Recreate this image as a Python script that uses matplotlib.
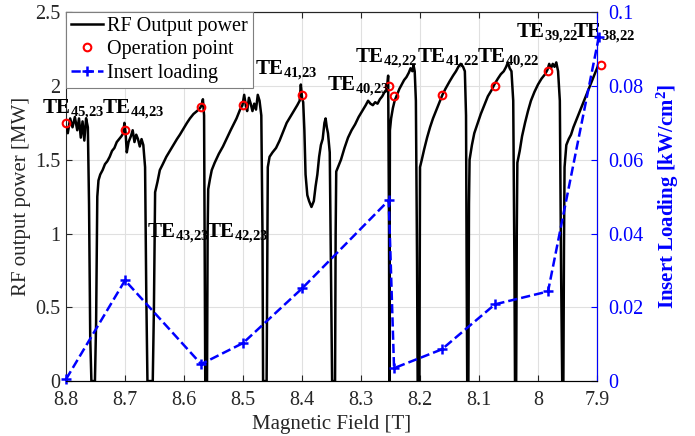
import matplotlib
matplotlib.use("Agg")
from matplotlib import pyplot as plt

plt.rcParams['font.family'] = ['Liberation Serif', 'DejaVu Serif']
plt.rcParams['mathtext.fontset'] = 'custom'
plt.rcParams['mathtext.rm'] = 'Liberation Serif'
plt.rcParams['mathtext.bf'] = 'Liberation Serif:bold'
plt.rcParams['mathtext.it'] = 'Liberation Serif:italic'

# RF output power trace
rf_field = [
    8.800, 8.797, 8.793, 8.789, 8.785, 8.781, 8.778, 8.775, 8.772, 8.769, 8.766, 8.763, 8.761, 8.759, 8.757, 8.751,
    8.749, 8.747, 8.745, 8.742, 8.738, 8.734, 8.730, 8.726, 8.722, 8.718, 8.714, 8.710, 8.706, 8.703, 8.701, 8.699,
    8.697, 8.694, 8.690, 8.687, 8.684, 8.681, 8.678, 8.675, 8.672, 8.669, 8.666, 8.664, 8.662, 8.653,
    8.651, 8.649, 8.645, 8.641, 8.636, 8.630, 8.624, 8.618, 8.612, 8.607, 8.601, 8.595, 8.590, 8.584, 8.578, 8.573,
    8.570, 8.568, 8.566, 8.565, 8.564, 8.561,
    8.560, 8.559, 8.556, 8.553, 8.548, 8.541, 8.534, 8.527, 8.521, 8.516, 8.511, 8.505, 8.501, 8.498, 8.495, 8.493,
    8.490, 8.487, 8.484, 8.481, 8.478, 8.475, 8.472, 8.469, 8.467, 8.466, 8.460,
    8.459, 8.458, 8.455, 8.450, 8.444, 8.438, 8.432, 8.426, 8.420, 8.414, 8.408, 8.404, 8.402, 8.400, 8.398, 8.396,
    8.394, 8.391, 8.388, 8.384, 8.380, 8.377, 8.374, 8.371, 8.368, 8.365, 8.362, 8.360, 8.358, 8.356, 8.353, 8.351,
    8.349, 8.344,
    8.343, 8.342, 8.338, 8.334, 8.328, 8.322, 8.316, 8.310, 8.304, 8.298, 8.292, 8.288, 8.284, 8.280, 8.276, 8.272,
    8.268, 8.264, 8.260, 8.256, 8.254, 8.2525, 8.252, 8.2515,
    8.251, 8.249, 8.246, 8.243, 8.239, 8.235, 8.231, 8.227, 8.223, 8.219, 8.216, 8.213, 8.211, 8.209, 8.207, 8.205,
    8.204, 8.201,
    8.200, 8.197, 8.193, 8.188, 8.183, 8.178, 8.172, 8.167, 8.162, 8.157, 8.150, 8.144, 8.139, 8.135, 8.131, 8.127,
    8.124, 8.122, 8.121, 8.120, 8.118,
    8.117, 8.116, 8.112, 8.108, 8.103, 8.097, 8.091, 8.085, 8.079, 8.074, 8.068, 8.063, 8.058, 8.054, 8.051, 8.048,
    8.045, 8.042, 8.040, 8.039, 8.037,
    8.036, 8.035, 8.031, 8.027, 8.022, 8.017, 8.012, 8.006, 8.000, 7.994, 7.988, 7.984, 7.981, 7.978, 7.975, 7.972,
    7.969, 7.966, 7.963, 7.961, 7.959, 7.957,
    7.956, 7.955, 7.952, 7.948, 7.944, 7.940, 7.935, 7.930, 7.925, 7.920, 7.915, 7.910, 7.905, 7.900, 7.897,
]
rf_power = [
    1.72, 1.68, 1.78, 1.72, 1.79, 1.70, 1.78, 1.65, 1.76, 1.63, 1.78, 1.72, 1.20, 0.30, 0.0, 0.0,
    0.40, 1.25, 1.36, 1.40, 1.43, 1.47, 1.49, 1.52, 1.56, 1.58, 1.62, 1.64, 1.66, 1.68, 1.75, 1.68,
    1.55, 1.62, 1.66, 1.70, 1.62, 1.67, 1.64, 1.59, 1.64, 1.60, 1.45, 0.60, 0.0, 0.0,
    0.50, 1.28, 1.35, 1.43, 1.47, 1.52, 1.56, 1.60, 1.64, 1.67, 1.71, 1.75, 1.78, 1.81, 1.83, 1.85,
    1.87, 1.91, 1.80, 0.90, 0.0, 0.0,
    1.00, 1.30, 1.37, 1.43, 1.48, 1.54, 1.59, 1.65, 1.70, 1.74, 1.78, 1.84, 1.87, 1.94, 1.86, 1.83,
    1.92, 1.88, 1.83, 1.88, 1.84, 1.94, 1.90, 1.80, 1.00, 0.0, 0.0,
    0.80, 1.45, 1.52, 1.55, 1.58, 1.63, 1.69, 1.75, 1.79, 1.83, 1.87, 1.90, 2.01, 1.92, 1.89, 1.70,
    1.40, 1.26, 1.22, 1.18, 1.22, 1.32, 1.40, 1.52, 1.60, 1.64, 1.75, 1.78, 1.72, 1.68, 1.55, 0.80,
    0.0, 0.0,
    1.00, 1.42, 1.46, 1.50, 1.58, 1.65, 1.70, 1.74, 1.79, 1.83, 1.87, 1.90, 1.88, 1.87, 1.89, 1.88,
    1.91, 1.93, 1.96, 1.98, 2.07, 1.00, 0.0, 1.00,
    1.70, 1.78, 1.85, 1.90, 1.94, 1.98, 2.01, 2.04, 2.06, 2.09, 2.12, 2.10, 2.14, 2.10, 1.90, 0.80,
    0.0, 0.0,
    1.45, 1.50, 1.57, 1.65, 1.72, 1.78, 1.84, 1.89, 1.94, 1.98, 2.03, 2.07, 2.10, 2.13, 2.15, 2.13,
    2.10, 1.80, 0.80, 0.0, 0.0,
    1.20, 1.50, 1.60, 1.68, 1.74, 1.81, 1.87, 1.93, 1.97, 2.01, 2.05, 2.08, 2.10, 2.13, 2.16, 2.12,
    2.10, 1.90, 0.80, 0.0, 0.0,
    1.00, 1.48, 1.56, 1.66, 1.75, 1.83, 1.90, 1.96, 2.01, 2.05, 2.08, 2.11, 2.15, 2.12, 2.15, 2.13,
    2.16, 2.10, 1.90, 0.80, 0.0, 0.0,
    0.90, 1.45, 1.60, 1.64, 1.67, 1.72, 1.77, 1.82, 1.87, 1.92, 1.97, 2.02, 2.07, 2.12, 2.15,
]

# operation points
op_field = [8.800, 8.700, 8.571, 8.500, 8.400, 8.253, 8.244, 8.163, 8.073, 7.983, 7.893]
op_power = [1.75, 1.70, 1.86, 1.87, 1.94, 2.00, 1.93, 1.94, 2.00, 2.10, 2.14]

# insert loading (right axis)
load_field = [8.800, 8.700, 8.571, 8.500, 8.400, 8.253, 8.244, 8.163, 8.073, 7.983, 7.897]
load_value = [0.0005, 0.0273, 0.0046, 0.0103, 0.0251, 0.0490, 0.0035, 0.0086, 0.0208, 0.0243, 0.0932]

# mode labels: (subscript, field of left edge, power of baseline)
mode_names = ['45,23', '44,23', '41,23', '40,23', '42,22', '41,22', '40,22', '39,22', '38,22', '43,23', '42,23']
mode_field = [8.841, 8.739, 8.480, 8.358, 8.310, 8.205, 8.103, 8.037, 7.941, 8.663, 8.563]
mode_power = [1.81, 1.81, 2.08, 1.97, 2.16, 2.16, 2.16, 2.33, 2.33, 0.97, 0.97]

dark = '#262626'
blue = '#0000ff'

fig = plt.figure(figsize=(6.95, 4.36), dpi=100)
ax = fig.add_axes([0.095, 0.126, 0.764, 0.846])
ax2 = ax.twinx()

ax.plot(rf_field, rf_power, color='black', lw=1.8, label='RF Output power', zorder=3)
ax.plot(op_field, op_power, 'o', ms=5.5, mfc='none', mec='red', mew=1.5,
        label='Operation point', clip_on=False, zorder=4)
ln, = ax2.plot(load_field, load_value, '--+', color=blue, lw=1.8, ms=7, mew=1.8,
               label='Insert loading', clip_on=False)

for name, bx, py in zip(mode_names, mode_field, mode_power):
    sub = name.replace(',', '{,}')
    ax.text(bx, py, r'$\mathbf{TE_{%s}}$' % sub, fontsize=15, ha='left', va='baseline',
            color='black', zorder=5, clip_on=False)

ax.set_xlim(8.8, 7.9)
ax.set_ylim(0, 2.5)
ax2.set_ylim(0, 0.1)
ax.set_xticks([8.8, 8.7, 8.6, 8.5, 8.4, 8.3, 8.2, 8.1, 8.0, 7.9])
ax.set_xticklabels(['8.8', '8.7', '8.6', '8.5', '8.4', '8.3', '8.2', '8.1', '8', '7.9'])
ax.set_yticks([0, 0.5, 1, 1.5, 2, 2.5])
ax.set_yticklabels(['0', '0.5', '1', '1.5', '2', '2.5'])
ax2.set_yticks([0, 0.02, 0.04, 0.06, 0.08, 0.1])
ax2.set_yticklabels(['0', '0.02', '0.04', '0.06', '0.08', '0.1'])

ax.grid(True, color='#e0e0e0', lw=0.8)
ax.set_axisbelow(True)
ax.tick_params(axis='x', direction='in', labelsize=14.5, colors=dark, top=True, length=4, pad=7)
ax.tick_params(axis='y', direction='in', labelsize=14.5, colors=dark, length=4, pad=4)
ax2.tick_params(axis='y', direction='in', labelsize=14.5, colors=blue, length=4, pad=8)
for s in ['left', 'bottom', 'top']:
    ax.spines[s].set_color(dark)
ax2.spines['right'].set_color(blue)
ax2.spines['left'].set_visible(False)
ax2.spines['top'].set_color(dark)

ax.set_xlabel('Magnetic Field [T]', fontsize=15, color=dark, labelpad=4)
ax.set_ylabel('RF output power [MW]', fontsize=15, color=dark, labelpad=3)
ax2.set_ylabel(r'Insert Loading [kW/cm$^\mathbf{2}$]', fontsize=15, color=blue,
               fontweight='bold', labelpad=8)

h1, l1 = ax.get_legend_handles_labels()
leg = ax2.legend(h1 + [ln], l1 + ['Insert loading'], loc='upper left', fontsize=14.5,
                 frameon=True, fancybox=False, edgecolor='#7f7f7f', framealpha=1,
                 borderaxespad=0, handlelength=1.6, handletextpad=0.2,
                 labelspacing=0.2, borderpad=0.25)
leg.get_frame().set_linewidth(0.8)
leg.set_zorder(10)

fig.savefig('out.png', dpi=100)
